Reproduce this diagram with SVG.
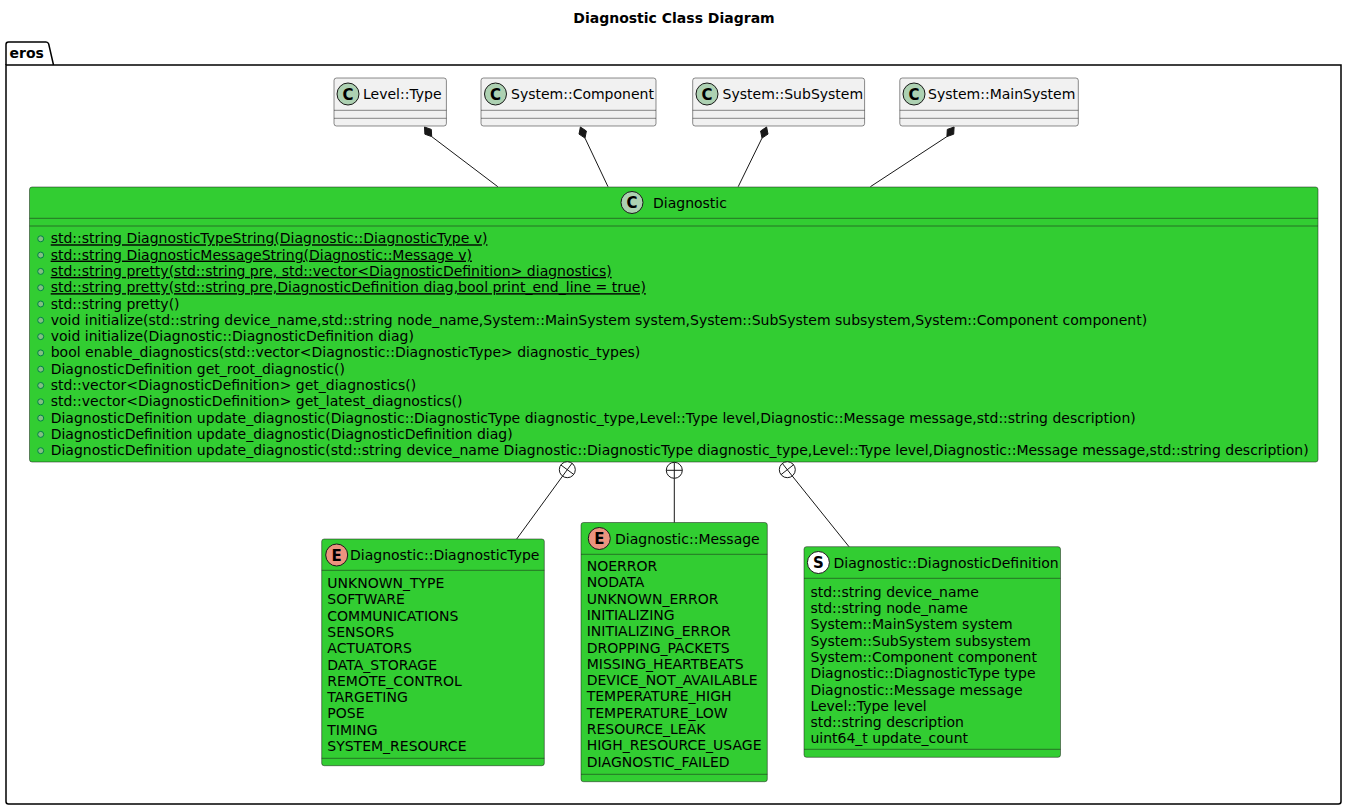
<svg xmlns="http://www.w3.org/2000/svg" width="1348" height="812" viewBox="0 0 1348 812">
<style>
text{font-family:"DejaVu Sans","Liberation Sans",sans-serif;font-size:14px;fill:#000}
.b{font-weight:bold}
.box{fill:#F1F1F1;stroke:#181818;stroke-width:0.5}
.g{fill:#32CD32;stroke:#181818;stroke-width:0.5}
.sep{stroke:#181818;stroke-width:0.5}
.ci{fill:#ADD1B2;stroke:#181818;stroke-width:1}
.ce{fill:#EB937F;stroke:#181818;stroke-width:1}
.cs{fill:#FFFFFF;stroke:#181818;stroke-width:1}
.gl{font-weight:bold;font-size:15px;text-anchor:middle}
.vis{fill:#84BE84;stroke:#038048;stroke-width:1}
.u{text-decoration:underline}
.ln{stroke:#181818;stroke-width:1;fill:none}
.dia{fill:#181818;stroke:#181818;stroke-width:1}
</style>
<text class="b" x="674" y="23" text-anchor="middle">Diagnostic Class Diagram</text>
<g id="pkg-eros">
<path d="M6,65 L6,44.5 Q6,42 8.5,42 L46,42 Q48,42 48.7,44 L53.5,65" fill="none" stroke="#000" stroke-width="1.5"/>
<path d="M6,65 L1341,65 L1341,801.5 Q1341,804 1338.5,804 L8.5,804 Q6,804 6,801.5 Z" fill="none" stroke="#000" stroke-width="1.5"/>
<text class="b" x="9.5" y="58">eros</text>
</g>
<g id="level-type">
<rect class="box" x="334" y="78" width="112.4" height="48" rx="2.5"/>
<line class="sep" x1="334" y1="110.3" x2="446.4" y2="110.3"/>
<line class="sep" x1="334" y1="118.3" x2="446.4" y2="118.3"/>
<circle class="ci" cx="348" cy="94" r="11"/><text class="gl" x="348" y="99.5">C</text>
<text x="363" y="99">Level::Type</text>
</g>
<g id="system-component">
<rect class="box" x="481" y="78" width="175" height="48" rx="2.5"/>
<line class="sep" x1="481" y1="110.3" x2="656" y2="110.3"/>
<line class="sep" x1="481" y1="118.3" x2="656" y2="118.3"/>
<circle class="ci" cx="495.5" cy="94" r="11"/><text class="gl" x="495.5" y="99.5">C</text>
<text x="511" y="99">System::Component</text>
</g>
<g id="system-subsystem">
<rect class="box" x="692.7" y="78" width="171.9" height="48" rx="2.5"/>
<line class="sep" x1="692.7" y1="110.3" x2="864.6" y2="110.3"/>
<line class="sep" x1="692.7" y1="118.3" x2="864.6" y2="118.3"/>
<circle class="ci" cx="707" cy="94" r="11"/><text class="gl" x="707" y="99.5">C</text>
<text x="722.6" y="99">System::SubSystem</text>
</g>
<g id="system-mainsystem">
<rect class="box" x="899.8" y="78" width="178.5" height="48" rx="2.5"/>
<line class="sep" x1="899.8" y1="110.3" x2="1078.3" y2="110.3"/>
<line class="sep" x1="899.8" y1="118.3" x2="1078.3" y2="118.3"/>
<circle class="ci" cx="914" cy="94" r="11"/><text class="gl" x="914" y="99.5">C</text>
<text x="928" y="99">System::MainSystem</text>
</g>
<g id="diagnostic">
<rect class="g" x="29.5" y="187" width="1288.5" height="275" rx="2.5"/>
<line class="sep" x1="29.5" y1="218.3" x2="1318" y2="218.3"/>
<line class="sep" x1="29.5" y1="226" x2="1318" y2="226"/>
<circle class="ci" cx="632" cy="202.5" r="11"/><text class="gl" x="632" y="208">C</text>
<text x="653" y="207.5">Diagnostic</text>
<circle class="vis" cx="40.7" cy="238.8" r="3"/><text class="u" x="50.7" y="243.3">std::string DiagnosticTypeString(Diagnostic::DiagnosticType v)</text>
<circle class="vis" cx="40.7" cy="255.1" r="3"/><text class="u" x="50.7" y="259.6">std::string DiagnosticMessageString(Diagnostic::Message v)</text>
<circle class="vis" cx="40.7" cy="271.4" r="3"/><text class="u" x="50.7" y="275.9">std::string pretty(std::string pre, std::vector&lt;DiagnosticDefinition&gt; diagnostics)</text>
<circle class="vis" cx="40.7" cy="287.7" r="3"/><text class="u" x="50.7" y="292.2">std::string pretty(std::string pre,DiagnosticDefinition diag,bool print_end_line = true)</text>
<circle class="vis" cx="40.7" cy="304" r="3"/><text x="50.7" y="308.5">std::string pretty()</text>
<circle class="vis" cx="40.7" cy="320.3" r="3"/><text x="50.7" y="324.8">void initialize(std::string device_name,std::string node_name,System::MainSystem system,System::SubSystem subsystem,System::Component component)</text>
<circle class="vis" cx="40.7" cy="336.6" r="3"/><text x="50.7" y="341.1">void initialize(Diagnostic::DiagnosticDefinition diag)</text>
<circle class="vis" cx="40.7" cy="352.9" r="3"/><text x="50.7" y="357.4">bool enable_diagnostics(std::vector&lt;Diagnostic::DiagnosticType&gt; diagnostic_types)</text>
<circle class="vis" cx="40.7" cy="369.2" r="3"/><text x="50.7" y="373.7">DiagnosticDefinition get_root_diagnostic()</text>
<circle class="vis" cx="40.7" cy="385.5" r="3"/><text x="50.7" y="390">std::vector&lt;DiagnosticDefinition&gt; get_diagnostics()</text>
<circle class="vis" cx="40.7" cy="401.8" r="3"/><text x="50.7" y="406.3">std::vector&lt;DiagnosticDefinition&gt; get_latest_diagnostics()</text>
<circle class="vis" cx="40.7" cy="418.1" r="3"/><text x="50.7" y="422.6">DiagnosticDefinition update_diagnostic(Diagnostic::DiagnosticType diagnostic_type,Level::Type level,Diagnostic::Message message,std::string description)</text>
<circle class="vis" cx="40.7" cy="434.4" r="3"/><text x="50.7" y="438.9">DiagnosticDefinition update_diagnostic(DiagnosticDefinition diag)</text>
<circle class="vis" cx="40.7" cy="450.7" r="3"/><text x="50.7" y="455.2">DiagnosticDefinition update_diagnostic(std::string device_name Diagnostic::DiagnosticType diagnostic_type,Level::Type level,Diagnostic::Message message,std::string description)</text>
</g>
<g id="diagnostic-type">
<rect class="g" x="321.7" y="539" width="222.6" height="226.7" rx="2.5"/>
<line class="sep" x1="321.7" y1="570.3" x2="544.3" y2="570.3"/>
<line class="sep" x1="321.7" y1="758.3" x2="544.3" y2="758.3"/>
<circle class="ce" cx="336.7" cy="555" r="11"/><text class="gl" x="336.7" y="560.5">E</text>
<text x="350" y="560">Diagnostic::DiagnosticType</text>
<text x="327.3" y="588">UNKNOWN_TYPE</text>
<text x="327.3" y="604.3">SOFTWARE</text>
<text x="327.3" y="620.6">COMMUNICATIONS</text>
<text x="327.3" y="636.9">SENSORS</text>
<text x="327.3" y="653.2">ACTUATORS</text>
<text x="327.3" y="669.5">DATA_STORAGE</text>
<text x="327.3" y="685.8">REMOTE_CONTROL</text>
<text x="327.3" y="702.1">TARGETING</text>
<text x="327.3" y="718.4">POSE</text>
<text x="327.3" y="734.7">TIMING</text>
<text x="327.3" y="751">SYSTEM_RESOURCE</text>
</g>
<g id="diagnostic-message">
<rect class="g" x="581" y="522.5" width="186.3" height="259.2" rx="2.5"/>
<line class="sep" x1="581" y1="554.3" x2="767.3" y2="554.3"/>
<line class="sep" x1="581" y1="774.3" x2="767.3" y2="774.3"/>
<circle class="ce" cx="599.3" cy="538.5" r="11"/><text class="gl" x="599.3" y="544">E</text>
<text x="615" y="543.5">Diagnostic::Message</text>
<text x="586.7" y="571">NOERROR</text>
<text x="586.7" y="587.3">NODATA</text>
<text x="586.7" y="603.6">UNKNOWN_ERROR</text>
<text x="586.7" y="619.9">INITIALIZING</text>
<text x="586.7" y="636.2">INITIALIZING_ERROR</text>
<text x="586.7" y="652.5">DROPPING_PACKETS</text>
<text x="586.7" y="668.8">MISSING_HEARTBEATS</text>
<text x="586.7" y="685.1">DEVICE_NOT_AVAILABLE</text>
<text x="586.7" y="701.4">TEMPERATURE_HIGH</text>
<text x="586.7" y="717.7">TEMPERATURE_LOW</text>
<text x="586.7" y="734">RESOURCE_LEAK</text>
<text x="586.7" y="750.3">HIGH_RESOURCE_USAGE</text>
<text x="586.7" y="766.6">DIAGNOSTIC_FAILED</text>
</g>
<g id="diagnostic-definition">
<rect class="g" x="804" y="546.7" width="256.5" height="210.6" rx="2.5"/>
<line class="sep" x1="804" y1="578.3" x2="1060.5" y2="578.3"/>
<line class="sep" x1="804" y1="749.3" x2="1060.5" y2="749.3"/>
<circle class="cs" cx="818.4" cy="562.5" r="11"/><text class="gl" x="818.4" y="568">S</text>
<text x="833.6" y="567.5">Diagnostic::DiagnosticDefinition</text>
<text x="810.4" y="596.7">std::string device_name</text>
<text x="810.4" y="613">std::string node_name</text>
<text x="810.4" y="629.3">System::MainSystem system</text>
<text x="810.4" y="645.6">System::SubSystem subsystem</text>
<text x="810.4" y="661.9">System::Component component</text>
<text x="810.4" y="678.2">Diagnostic::DiagnosticType type</text>
<text x="810.4" y="694.5">Diagnostic::Message message</text>
<text x="810.4" y="710.8">Level::Type level</text>
<text x="810.4" y="727.1">std::string description</text>
<text x="810.4" y="743.4">uint64_t update_count</text>
</g>
<g id="connectors">
<polygon class="dia" points="424.5,127 431.3,129.4 431.7,136.6 424.9,134.2"/>
<line class="ln" x1="431.7" y1="136.6" x2="497.8" y2="186.7"/>
<polygon class="dia" points="580.4,127 586.4,131 585,138.1 579,134.1"/>
<line class="ln" x1="585" y1="138.1" x2="608" y2="186.7"/>
<polygon class="dia" points="766.6,127 768,134.1 762,138.1 760.6,131"/>
<line class="ln" x1="762" y1="138.1" x2="738.2" y2="186.7"/>
<polygon class="dia" points="954.1,127 953.7,134.2 946.9,136.6 947.3,129.4"/>
<line class="ln" x1="946.9" y1="136.6" x2="870.4" y2="186.7"/>
<circle cx="567.3" cy="469.7" r="8" fill="#FFFFFF" stroke="#181818" stroke-width="1"/>
<line class="ln" x1="572.04" y1="463.26" x2="562.56" y2="476.14"/>
<line class="ln" x1="560.86" y1="464.96" x2="573.74" y2="474.44"/>
<line class="ln" x1="562.56" y1="476.14" x2="516.7" y2="539"/>
<circle cx="674.3" cy="470.3" r="8" fill="#FFFFFF" stroke="#181818" stroke-width="1"/>
<line class="ln" x1="666.3" y1="470.3" x2="682.3" y2="470.3"/>
<line class="ln" x1="674.3" y1="462.3" x2="674.3" y2="478.3"/>
<line class="ln" x1="674.3" y1="478.3" x2="674.3" y2="522.5"/>
<circle cx="787.3" cy="469.7" r="8" fill="#FFFFFF" stroke="#181818" stroke-width="1"/>
<line class="ln" x1="782.35" y1="463.41" x2="792.25" y2="475.99"/>
<line class="ln" x1="793.59" y1="464.75" x2="781.01" y2="474.65"/>
<line class="ln" x1="792.25" y1="475.99" x2="849" y2="546.7"/>
</g>
</svg>
